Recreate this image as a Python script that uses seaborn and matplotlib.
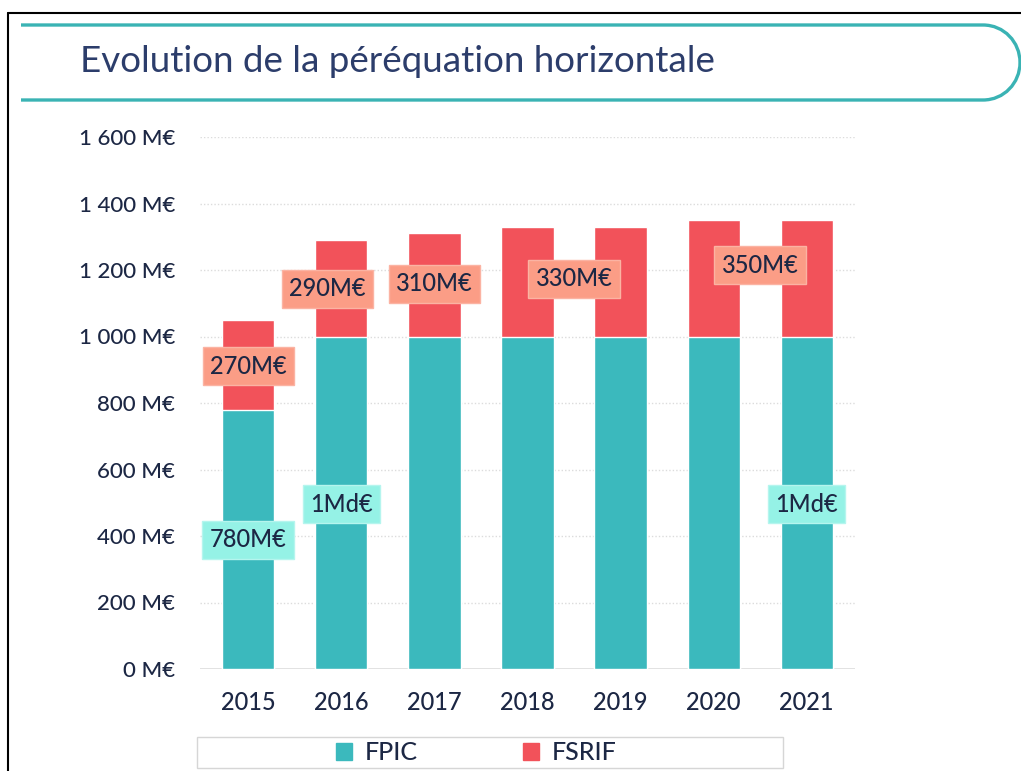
import numpy as np
import pandas as pd
import matplotlib
matplotlib.use("Agg")
import matplotlib.pyplot as plt
import seaborn as sns
from matplotlib.path import Path
from matplotlib.patches import PathPatch, Rectangle, Patch
from matplotlib.lines import Line2D

# data
years = ["2015", "2016", "2017", "2018", "2019", "2020", "2021"]
fpic = [780, 1000, 1000, 1000, 1000, 1000, 1000]
fsrif = [270, 290, 310, 330, 330, 350, 350]
fpic_labels = ["780M€", "1Md€", "", "", "", "", "1Md€"]
fsrif_labels = ["270M€", "290M€", "310M€", "330M€", "", "350M€", ""]
y_ticks = [0, 200, 400, 600, 800, 1000, 1200, 1400, 1600]
y_tick_labels = ["0 M€", "200 M€", "400 M€", "600 M€", "800 M€",
                 "1 000 M€", "1 200 M€", "1 400 M€", "1 600 M€"]

TEAL = "#3bb9bd"
RED = "#f2525a"
NAVY = "#1c2744"

df = pd.DataFrame({"year": years, "FPIC": fpic, "FSRIF": fsrif})
df["total"] = df["FPIC"] + df["FSRIF"]

sns.set_theme(style="white")
plt.rcParams["font.family"] = ["Lato", "DejaVu Sans"]
plt.rcParams["font.weight"] = "medium"

W, H = 1021, 771
fig = plt.figure(figsize=(W / 100, H / 100), dpi=100)


def px(x, y):
    return (x / W, 1 - y / H)


ax = fig.add_axes([200 / W, 1 - 669 / H, 655 / W, (669 - 137) / H])

sns.barplot(data=df, x="year", y="total", color=RED, width=0.56,
            saturation=1, ax=ax)
sns.barplot(data=df, x="year", y="FPIC", color=TEAL, width=0.56,
            saturation=1, ax=ax)

ax.set_ylim(0, 1600)
ax.set_xlim(-0.52, len(years) - 0.48)
ax.set_yticks(y_ticks)
ax.set_yticklabels(y_tick_labels)
ax.set_xlabel("")
ax.set_ylabel("")
ax.tick_params(axis="y", length=0, pad=18, labelsize=16, labelcolor=NAVY)
ax.tick_params(axis="x", length=0, pad=16, labelsize=17, labelcolor=NAVY)
for s in ax.spines.values():
    s.set_visible(False)
for t in y_ticks[1:]:
    ax.axhline(t, color="#dcdcdc", lw=1, ls=(0, (1, 1.5)), zorder=0)
ax.axhline(0, color="#dddddd", lw=1.2, zorder=0)

# label layout: (dx, dy) offsets in data units
fsrif_shift = [(0, -4), (-0.15, -2), (0, 3), (0.5, 8), (0, 0), (0.5, 40), (0, 0)]
fpic_shift = [(0, -2), (0, -4), (0, 0), (0, 0), (0, 0), (0, 0), (0, -4)]

for i, (lab, (dx, dy)) in enumerate(zip(fsrif_labels, fsrif_shift)):
    if lab:
        ax.text(i + dx, fpic[i] + fsrif[i] / 2 + dy, lab, ha="center",
                va="center", fontsize=17, color=NAVY, zorder=5,
                bbox=dict(boxstyle="square,pad=0.32", fc="#fb9d86",
                          ec="#fbb3a3", lw=1))
for i, (lab, (dx, dy)) in enumerate(zip(fpic_labels, fpic_shift)):
    if lab:
        ax.text(i + dx, fpic[i] / 2 + dy, lab, ha="center", va="center",
                fontsize=17, color=NAVY, zorder=5,
                bbox=dict(boxstyle="square,pad=0.32", fc="#95f2e6",
                          ec="#b5f5ee", lw=1))

# title banner
verts = [px(21, 25), px(983, 25), px(1004, 25), px(1020, 42), px(1020, 62.5),
         px(1020, 83), px(1004, 100), px(983, 100), px(21, 100)]
codes = [Path.MOVETO, Path.LINETO, Path.CURVE4, Path.CURVE4, Path.CURVE4,
         Path.CURVE4, Path.CURVE4, Path.CURVE4, Path.LINETO]
fig.patches.append(PathPatch(Path(verts, codes), transform=fig.transFigure,
                             fill=False, ec="#3ab3b4", lw=2.4))
fig.text(80 / W, 1 - 61 / H, "Evolution de la péréquation horizontale",
         fontsize=26.5, color="#2c3d6b", va="center", ha="left",
         fontweight="normal")

# black frame
fig.lines.append(Line2D([8 / W, 8 / W], [0, 1 - 13 / H], color="black",
                        lw=1.5, transform=fig.transFigure))
fig.lines.append(Line2D([8 / W, 1], [1 - 13 / H, 1 - 13 / H], color="black",
                        lw=1.5, transform=fig.transFigure))

# legend
x0, y0 = px(197, 768)
fig.patches.append(Rectangle((x0, y0), 586 / W, 31 / H, fill=False,
                             ec="#d6d6d6", lw=1, transform=fig.transFigure))
handles = [Patch(color=TEAL, label="FPIC"), Patch(color=RED, label="FSRIF")]
fig.legend(handles=handles, loc="center", bbox_to_anchor=px(476, 753), ncol=2,
           frameon=False, fontsize=18, handlelength=0.65, handleheight=0.65,
           handletextpad=0.5, columnspacing=4.2, labelcolor=NAVY)

fig.savefig("out.png", dpi=100)
